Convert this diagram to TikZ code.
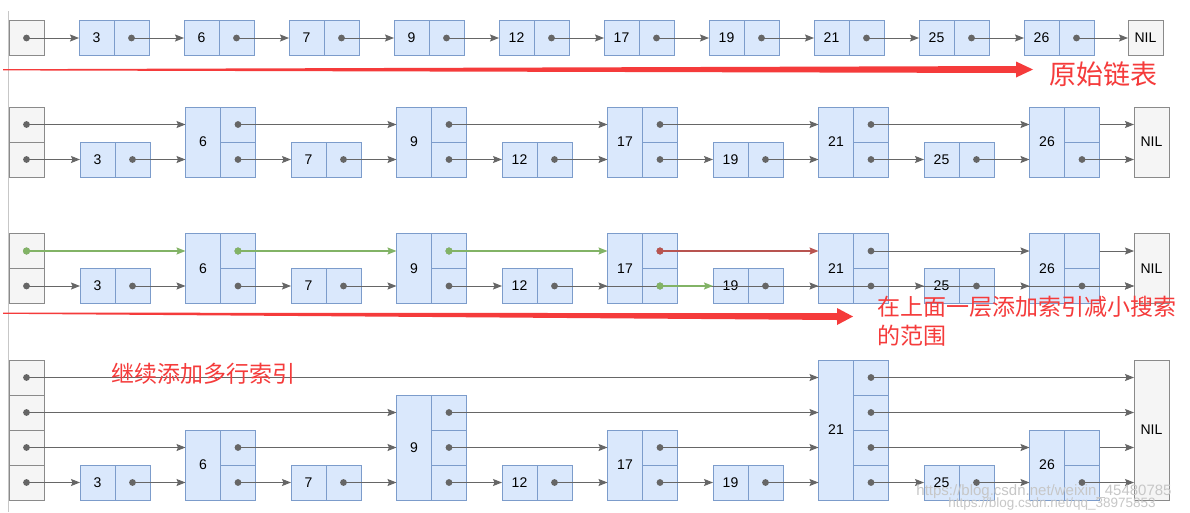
\documentclass[tikz,border=0pt]{standalone}
\usepackage{fontspec}
\setmainfont{Liberation Sans}
\newfontfamily\cjk{Noto Sans CJK SC}
\usetikzlibrary{arrows.meta}
\definecolor{bfill}{HTML}{DAE8FC}
\definecolor{bdraw}{HTML}{7C9CCB}
\definecolor{gfill}{HTML}{F5F5F5}
\definecolor{gdraw}{HTML}{8A8A8A}
\definecolor{lnk}{HTML}{666666}
\definecolor{grn}{HTML}{82B366}
\definecolor{redl}{HTML}{B85450}
\definecolor{annored}{HTML}{F53B3B}
\tikzset{
  cell/.style={draw=bdraw, fill=bfill, line width=0.9pt, minimum width=35pt, minimum height=35pt,
    inner sep=0pt, outer sep=0pt, anchor=south west, font=\fontsize{14}{16}\selectfont, text=black},
  hcell/.style={cell, draw=gdraw, fill=gfill},
  link/.style={draw=lnk, line width=1pt, -{Stealth[length=9pt,width=7pt,inset=1.5pt]}},
  glink/.style={link, draw=grn, line width=1.4pt},
  rlink/.style={link, draw=redl, line width=1.4pt},
  anno/.style={text=annored, inner sep=0pt, outer sep=0pt},
  wmark/.style={text=black!22, inner sep=0pt, font=\fontsize{15}{15}\selectfont},
}
% name, x, ybottom, levels, label, dotted levels
\newcommand\sknode[6]{%
  \node[cell, minimum height={#4*35pt}] (#1) at ({#2},{#3}) {#5};
  \foreach \k in {1,...,#4}{\node[cell] (#1p\k) at ({#2+35},{#3-(\k-1)*35}) {};}
  \foreach \k in {1,...,#6}{\fill[lnk] (#1p\k.center) circle (3.4pt);}
}
% row, x, ybottom, levels
\newcommand\skhdr[4]{%
  \foreach \k in {1,...,#4}{\node[hcell] (r#1h\k) at ({#2},{#3-(\k-1)*35}) {};
    \fill[lnk] (r#1h\k.center) circle (3.4pt);}
}
\newcommand\sknil[4]{\node[hcell, minimum height={#4*35pt}] (r#1nil) at ({#2},{#3}) {NIL};}
% row, level, list, last anchor
\newcommand\chain[4]{%
  \xdef\prv{r#1h#2}%
  \foreach \i in {#3}{\draw[link] (\prv.center) -- (\prv.center -| r#1n\i.west); \xdef\prv{r#1n\i p#2}}%
  \draw[link] (\prv.#4) -- (\prv.#4 -| r#1nil.west);
}
\begin{document}
\begin{tikzpicture}[x=1pt,y=-1pt]
\useasboundingbox (0,0) rectangle (1190,512);
\fill[white] (0,0) rectangle (1190,512);
\draw[black!22, line width=1pt] (8,11) -- (8,512);

% ---- row 1: original list
\skhdr{1}{9}{55.5}{1}
\foreach \v [count=\i] in {3,6,7,9,12,17,19,21,25,26}{\sknode{r1n\i}{79+105*(\i-1)}{55.5}{1}{\v}{1}}
\sknil{1}{1128}{55.5}{1}
\chain{1}{1}{1,...,10}{center}

% ---- row 2
\skhdr{2}{9}{177}{2}
\foreach \v/\h/\d [count=\i] in {3/1/1,6/2/2,7/1/1,9/2/2,12/1/1,17/2/2,19/1/1,21/2/2,25/1/1,26/2/1}
  {\sknode{r2n\i}{80+105.5*(\i-1)}{177}{\h}{\v}{\d}}
\sknil{2}{1134}{177}{2}
\chain{2}{1}{1,...,10}{center}
\chain{2}{2}{2,4,6,8,10}{east}

% ---- row 3 (search path)
\skhdr{3}{9}{303.5}{2}
\foreach \v/\h/\d [count=\i] in {3/1/1,6/2/2,7/1/1,9/2/2,12/1/1,17/2/2,19/1/1,21/2/2,25/1/1,26/2/1}
  {\sknode{r3n\i}{80+105.5*(\i-1)}{303.5}{\h}{\v}{\d}}
\sknil{3}{1134}{303.5}{2}
\chain{3}{1}{1,...,5}{center}
\draw[link] (r3n5p1.center) -- (r3n5p1.center -| r3n6.west);
\draw[glink] (r3n6p1.center) -- (r3n6p1.center -| r3n7.west);
\draw[link] (r3n7p1.center) -- (r3n7p1.center -| r3n8.west);
\draw[link] (r3n8p1.center) -- (r3n8p1.center -| r3n9.west);
\draw[link] (r3n9p1.center) -- (r3n9p1.center -| r3n10.west);
\draw[link] (r3n10p1.center) -- (r3n10p1.center -| r3nil.west);
\draw[glink] (r3h2.center) -- (r3h2.center -| r3n2.west);
\draw[glink] (r3n2p2.center) -- (r3n2p2.center -| r3n4.west);
\draw[glink] (r3n4p2.center) -- (r3n4p2.center -| r3n6.west);
\draw[rlink] (r3n6p2.center) -- (r3n6p2.center -| r3n8.west);
\draw[link] (r3n8p2.center) -- (r3n8p2.center -| r3n10.west);
\draw[link] (r3n10p2.east) -- (r3n10p2.east -| r3nil.west);
\foreach \c in {r3h2,r3n2p2,r3n4p2,r3n6p1}{\fill[grn] (\c.center) circle (3.6pt);}
\fill[redl] (r3n6p2.center) circle (3.6pt);

% ---- row 4
\skhdr{4}{9}{500}{4}
\foreach \v/\h/\d [count=\i] in {3/1/1,6/2/2,7/1/1,9/3/3,12/1/1,17/2/2,19/1/1,21/4/4,25/1/1,26/2/1}
  {\sknode{r4n\i}{80+105.5*(\i-1)}{500}{\h}{\v}{\d}}
\sknil{4}{1134}{500}{4}
\chain{4}{1}{1,...,10}{center}
\chain{4}{2}{2,4,6,8,10}{east}
\chain{4}{3}{4,8}{center}
\chain{4}{4}{8}{center}

% ---- annotations
\fill[annored] (3,69.2) -- (1016,66) -- (1016,61.5) -- (1033,69.5) -- (1016,77.5) -- (1016,73) -- (3,70.4) -- cycle;
\node[anno, font=\cjk\fontsize{27}{27}\selectfont] (t1) at (1103,74) {原始链表};
\fill[annored] (3,312.6) -- (837,313.2) -- (837,308) -- (853,316.5) -- (837,325) -- (837,320) -- (3,313.8) -- cycle;
\node[anno, font=\cjk\fontsize{23}{29}\selectfont, anchor=north west, align=left] (t2) at (877,296) {在上面一层添加索引减小搜索\\的范围};
\node[anno, font=\cjk\fontsize{23}{23}\selectfont] (t3) at (203,373.5) {继续添加多行索引};
\node[wmark] (w1) at (1044,492) {https://blog.csdn.net/weixin\_45480785};
\node[wmark, font=\fontsize{13.5}{13.5}\selectfont] (w2) at (1052,504) {https://blog.csdn.net/qq\_38975853};
\end{tikzpicture}
\end{document}
